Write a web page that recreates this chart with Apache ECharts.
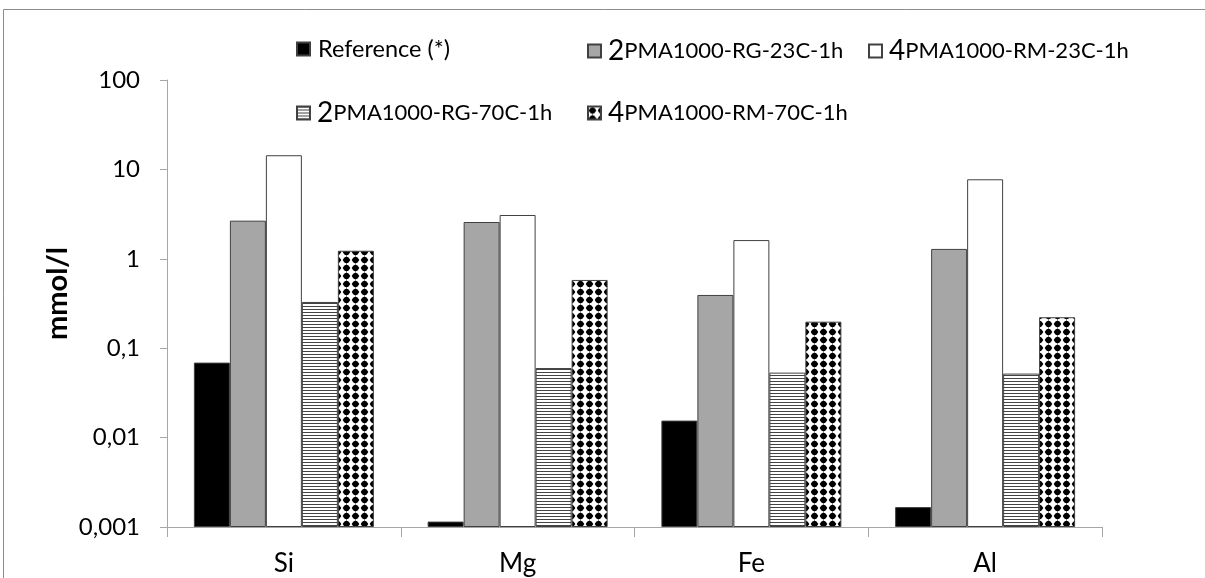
<!DOCTYPE html>
<html>
<head>
<meta charset="utf-8">
<script src="https://cdn.jsdelivr.net/npm/echarts@6/dist/echarts.min.js"></script>
<style>
html,body{margin:0;padding:0;background:#fff;}
#chart{width:1205px;height:578px;}
</style>
</head>
<body>
<div id="chart"></div>
<script>
var categories = ['Si', 'Mg', 'Fe', 'Al'];
var seriesNames = ['Reference (*)', '2PMA1000-RG-23C-1h', '4PMA1000-RM-23C-1h', '2PMA1000-RG-70C-1h', '4PMA1000-RM-70C-1h'];
var referenceValues = [0.069, 0.00115, 0.0155, 0.00167];
var rg23Values = [2.67, 2.58, 0.394, 1.29];
var rm23Values = [14.4, 3.09, 1.62, 7.75];
var rg70Values = [0.329, 0.060, 0.0533, 0.052];
var rm70Values = [1.23, 0.58, 0.198, 0.222];
var yTickLabels = ['0,001', '0,01', '0,1', '1', '10', '100'];

var FONT = 'Lato, "Open Sans", sans-serif';

function hLines() {
  var c = document.createElement('canvas');
  c.width = 4; c.height = 3;
  var g = c.getContext('2d');
  g.fillStyle = '#ffffff'; g.fillRect(0, 0, 4, 3);
  g.fillStyle = '#444444'; g.fillRect(0, 0, 4, 1);
  return { image: c, repeat: 'repeat' };
}
function dots() {
  var c = document.createElement('canvas');
  c.width = 9; c.height = 8;
  var g = c.getContext('2d');
  g.fillStyle = '#ffffff'; g.fillRect(0, 0, 9, 8);
  g.fillStyle = '#000000';
  g.beginPath();
  g.moveTo(4.5, 0.2); g.lineTo(8.4, 4); g.lineTo(4.5, 7.8); g.lineTo(0.6, 4); g.closePath();
  g.fill();
  g.beginPath(); g.arc(4.5, 4, 3.1, 0, Math.PI * 2); g.fill();
  return { image: c, repeat: 'repeat' };
}

var fills = ['#000000', '#a6a6a6', '#ffffff', hLines(), dots()];
var valuesList = [referenceValues, rg23Values, rm23Values, rg70Values, rm70Values];

var series = seriesNames.map(function (n, i) {
  return {
    name: n,
    type: 'bar',
    barGap: '0%',
    barCategoryGap: '23%',
    data: valuesList[i],
    itemStyle: { color: fills[i], borderColor: '#404040', borderWidth: 1 }
  };
});

var legendPos = [[296, 37], [587, 37], [868, 37], [296, 99], [587, 99]];
var legends = seriesNames.map(function (n, i) {
  return {
    data: [n],
    left: legendPos[i][0],
    top: legendPos[i][1],
    padding: 0,
    icon: 'rect',
    itemWidth: 13,
    itemHeight: 13,
    itemGap: 4,
    selectedMode: false,
    formatter: function (name) {
      if (/^\d/.test(name)) return '{a|' + name.charAt(0) + '}{b|' + name.slice(1) + '}';
      return '{c|' + name + '}';
    },
    textStyle: {
      fontFamily: FONT,
      fontSize: 22,
      color: '#000',
      rich: {
        a: { fontSize: 28, fontFamily: FONT, color: '#000', padding: [0, 0, 0, 2] },
        b: { fontSize: 22, fontFamily: FONT, color: '#000' },
        c: { fontSize: 23.5, fontFamily: FONT, color: '#000', padding: [0, 0, 0, 3] }
      }
    }
  };
});

var chart = echarts.init(document.getElementById('chart'));
chart.setOption({
  animation: false,
  backgroundColor: '#fff',
  graphic: [{
    type: 'rect',
    shape: { x: 3.5, y: 9.5, width: 1400, height: 800 },
    style: { fill: 'none', stroke: '#8c8c8c', lineWidth: 1 },
    silent: true
  }],
  legend: legends,
  grid: { left: 167, right: 103, top: 80, bottom: 51, containLabel: false },
  xAxis: {
    type: 'category',
    data: categories,
    axisLine: { lineStyle: { color: '#a6a6a6', width: 1 } },
    axisTick: { show: true, length: 10, lineStyle: { color: '#a6a6a6' } },
    axisLabel: { fontFamily: FONT, fontSize: 26, color: '#000', margin: 24 }
  },
  yAxis: {
    type: 'log',
    logBase: 10,
    min: 0.001,
    max: 100,
    startValue: 0.001,
    name: 'mmol/l',
    nameLocation: 'middle',
    nameGap: 95,
    nameMoveOverlap: false,
    nameTextStyle: { fontFamily: FONT, fontSize: 29, fontWeight: 'bold', color: '#000', padding: [0, 0, 0, 20] },
    axisLine: { show: true, lineStyle: { color: '#a6a6a6', width: 1 } },
    axisTick: { show: true, length: 7, lineStyle: { color: '#a6a6a6' } },
    splitLine: { show: false },
    axisLabel: {
      fontFamily: FONT, fontSize: 24, color: '#000', margin: 27,
      formatter: function (v) {
        var k = Math.round(Math.log10(v)) + 3;
        return yTickLabels[k] !== undefined ? yTickLabels[k] : '';
      }
    }
  },
  series: series
});
</script>
</body>
</html>
